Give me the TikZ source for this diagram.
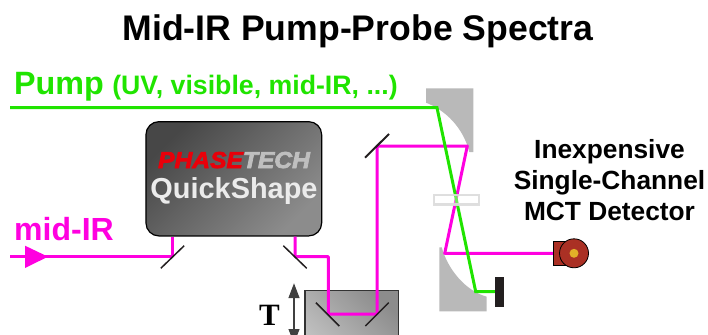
\documentclass[tikz,border=0pt]{standalone}
\usepackage{fontspec}
\setmainfont{Liberation Sans}
\newfontfamily\serifbold{Liberation Serif}
\newfontfamily\logofont{Liberation Sans Bold Italic}[FakeBold=3]
\usetikzlibrary{arrows.meta, positioning, calc}
\definecolor{meuverde}{RGB}{32, 228, 0}
\definecolor{meumagenta}{RGB}{255, 0, 224}
\definecolor{meucinza}{RGB}{185, 185, 185}
\definecolor{meumarrom}{RGB}{170, 48, 36}
\definecolor{meuouro}{RGB}{226, 176, 40}
\definecolor{meutinta}{RGB}{35, 31, 32}
\definecolor{meuvermelho}{RGB}{232, 0, 10}

\begin{document}
\begin{tikzpicture}[x=1pt, y=-1pt,
    pumpbeam/.style={draw=meuverde, line width=3pt, line join=miter},
    probebeam/.style={draw=meumagenta, line width=3pt, line join=round},
    mirror/.style={draw=meutinta, line width=1.5pt},
    concave/.style={fill=meucinza, draw=none},
    caption/.style={font=\bfseries, inner sep=0pt, anchor=base west},
    detcaption/.style={font=\bfseries\fontsize{26.3}{31}\selectfont, align=center, inner sep=0pt, text=black}
]
    \useasboundingbox (0,0) rectangle (708,334);
    \clip (0,0) rectangle (708,334);

    % Title and labels
    \node[font=\bfseries\fontsize{35.6}{40}\selectfont, inner sep=0pt, anchor=base] (title) at (358,41) {Mid-IR Pump-Probe Spectra};
    \node[caption, text=meuverde, font=\bfseries\fontsize{32.3}{36}\selectfont] (pumplabel) at (14,95) {Pump};
    \node[caption, text=meuverde, font=\bfseries\fontsize{26.7}{30}\selectfont, right=8pt of pumplabel.base east, anchor=base west] (pumpnote) {(UV, visible, mid-IR, ...)};
    \node[caption, text=meumagenta, font=\bfseries\fontsize{32}{36}\selectfont] (irlabel) at (14,240) {mid-IR};

    % Concave mirrors
    \path[concave] (426,88.3) coordinate (upper) -- (473.3,88.3) -- (473.3,152) -- (469.3,152)
        .. controls (463,127) and (445,110) .. (426,102.7) -- cycle;
    \path[concave] (439.3,311.3) coordinate (lower) -- (486.7,311.3) -- (486.7,296.7)
        .. controls (466,291) and (448,270) .. (441.7,247.3) -- (439.3,247.3) -- cycle;

    % Delay stage
    \node[draw=black!80, line width=1.2pt, top color=black!45, bottom color=black!22, shading angle=-45,
        minimum width=93.7pt, minimum height=80pt, inner sep=0pt] (stage) at (351.8,330.7) {};
    \draw[{Triangle[length=15pt, width=10.5pt]}-{Triangle[length=15pt, width=10.5pt]}, draw=black!75, line width=2.5pt] (294,283) -- (294,344);
    \node[font=\serifbold\bfseries\fontsize{31}{34}\selectfont, inner sep=0pt, anchor=base] (tlabel) at (269.5,325.7) {T};

    % Pulse shaper
    \node[draw=black, line width=1.2pt, rounded corners=13pt, top color=black!72, bottom color=black!45, shading angle=45,
        minimum width=175.7pt, minimum height=114.3pt, inner sep=0pt] (shaper) at (233.8,178.8) {};
    \node[inner sep=0pt, anchor=base, font=\logofont\fontsize{23}{26}\selectfont] (logo) at (234,168)
        {\scalebox{1.07}[1]{\textcolor{meuvermelho}{PHASE}\textcolor{black!25}{TECH}}};
    \node[inner sep=0pt, anchor=base, text=black!8, font=\bfseries\fontsize{28.9}{32}\selectfont] (qslabel) at (234,198) {QuickShape};

    % Beam points
    \coordinate (irstart) at (10,256.7);
    \coordinate (m1) at (172.5,256.7);
    \coordinate (m2) at (295,256.7);
    \coordinate (turn) at (328.3,256.7);
    \coordinate (m3) at (328.3,314);
    \coordinate (m4) at (377,314);
    \coordinate (m5) at (377,146);
    \coordinate (upperfocus) at (467.3,146);
    \coordinate (lowerfocus) at (444.7,253.3);
    \coordinate (pumpstart) at (10,107.7);
    \coordinate (pumpfocus) at (437,107.7);
    \coordinate (pumpend) at (475.7,291.7);

    % Beams
    \draw[probebeam] (irstart) -- (m1) -- (m1 |- shaper.south);
    \draw[probebeam] (m2 |- shaper.south) -- (m2) -- (turn) -- (m3) -- (m4) -- (m5) -- (upperfocus) -- (lowerfocus) -- (555,253.3);
    \draw[pumpbeam] (pumpstart) -- (pumpfocus) -- (pumpend) -- (497,291.7);
    \fill[meumagenta] (25,245.7) -- (48,256.7) -- (25,268) -- cycle;

    % Flat mirrors
    \draw[mirror] ($(m1)+(-11.7,11.6)$) -- ($(m1)+(11.7,-11)$);
    \draw[mirror] ($(m2)+(-11.7,-11)$) -- ($(m2)+(11.7,11.6)$);
    \draw[mirror] ($(m3)+(-12.3,-11.3)$) -- ($(m3)+(11,12)$);
    \draw[mirror] ($(m4)+(-11.7,12)$) -- ($(m4)+(11.7,-11.3)$);
    \draw[mirror, line width=2pt] ($(m5)+(-12,11.7)$) -- ($(m5)+(12,-12)$);

    % Sample, beam block, detector
    \node[draw=black!14, line width=2.5pt, fill=white, fill opacity=0.35, draw opacity=0.9, minimum width=45pt, minimum height=9.5pt, inner sep=0pt] (sample) at (456.3,199.8) {};
    \node[fill=meutinta, minimum width=9pt, minimum height=30pt, inner sep=0pt] (block) at (499.5,292) {};
    \node[draw=black, line width=0.7pt, fill=meumarrom, minimum width=18pt, minimum height=24pt, inner sep=0pt] (dethead) at (562.3,253.7) {};
    \node[circle, draw=black, line width=0.8pt, fill=meumarrom, minimum size=29pt, inner sep=0pt] (detector) at (574,253.3) {};
    \node[circle, fill=meuouro, minimum size=9pt, inner sep=0pt] (detcore) at (detector) {};
    \node[detcaption] (detlabel) at (609.5,180) {Inexpensive\\Single-Channel\\MCT Detector};
\end{tikzpicture}
\end{document}
